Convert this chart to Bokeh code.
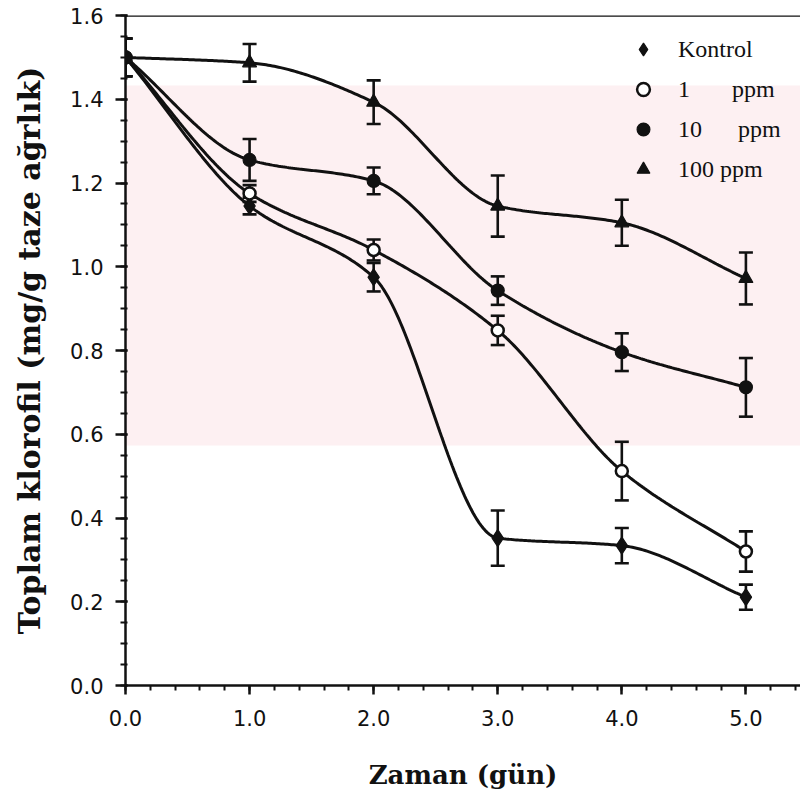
import numpy as np
from bokeh.plotting import figure
from bokeh.models import (ColumnDataSource, Whisker, TeeHead, Legend, LegendItem,
                          Span, SingleIntervalTicker, PrintfTickFormatter, BoxAnnotation)
from bokeh.embed import file_html
from bokeh.resources import INLINE

# ---- data ----
days = [0.0, 1.0, 2.0, 3.0, 4.0, 5.0]
kontrol = [1.50, 1.145, 0.975, 0.352, 0.334, 0.211]
kontrol_err = [0.045, 0.02, 0.034, 0.066, 0.042, 0.03]
ppm1 = [1.50, 1.175, 1.040, 0.848, 0.512, 0.320]
ppm1_err = [0.045, 0.02, 0.025, 0.035, 0.07, 0.048]
ppm10 = [1.50, 1.255, 1.205, 0.943, 0.796, 0.712]
ppm10_err = [0.045, 0.05, 0.032, 0.034, 0.045, 0.07]
ppm100 = [1.50, 1.487, 1.393, 1.145, 1.105, 0.972]
ppm100_err = [0.045, 0.045, 0.052, 0.073, 0.055, 0.062]

series_labels = ["Kontrol", "1\u00a0\u00a0\u00a0\u00a0\u00a0\u00a0\u00a0ppm",
                 "10\u00a0\u00a0\u00a0\u00a0\u00a0\u00a0ppm", "100 ppm"]
x_title = "Zaman (gün)"
y_title = "Toplam klorofil (mg/g taze ağrlık)"

INK = "#111111"


def smooth(x, y, per=60):
    """Monotone cubic (Fritsch-Carlson) curve through the data points."""
    x = np.asarray(x, float)
    y = np.asarray(y, float)
    h = np.diff(x)
    d = np.diff(y) / h
    m = np.zeros_like(y)
    m[0], m[-1] = d[0], d[-1]
    for k in range(1, len(x) - 1):
        if d[k - 1] * d[k] <= 0:
            m[k] = 0.0
        else:
            w1 = 2 * h[k] + h[k - 1]
            w2 = h[k] + 2 * h[k - 1]
            m[k] = (w1 + w2) / (w1 / d[k - 1] + w2 / d[k])
    xs, ys = [], []
    for k in range(len(x) - 1):
        t = np.linspace(0, 1, per, endpoint=(k == len(x) - 2))
        h00 = 2 * t**3 - 3 * t**2 + 1
        h10 = t**3 - 2 * t**2 + t
        h01 = -2 * t**3 + 3 * t**2
        h11 = t**3 - t**2
        xs.append(x[k] + t * h[k])
        ys.append(h00 * y[k] + h10 * h[k] * m[k] + h01 * y[k + 1] + h11 * h[k] * m[k + 1])
    return np.concatenate(xs), np.concatenate(ys)


p = figure(width=800, height=793, x_range=(0, 5.44), y_range=(0, 1.6),
           output_backend="svg", toolbar_location=None,
           min_border_left=125, min_border_right=0, min_border_top=15, min_border_bottom=108)
p.outline_line_color = None
p.grid.grid_line_color = None
p.background_fill_color = "white"
p.border_fill_color = "white"

# faint watermark band seen in the scan
p.add_layout(BoxAnnotation(bottom=0.573, top=1.433, fill_color="#fdf0f2", fill_alpha=1.0,
                           line_color=None, level="underlay"))

# top frame line
p.add_layout(Span(location=1.6, dimension="width", line_color=INK, line_width=2.5))

series = [
    (kontrol, kontrol_err, "diamond", 17, INK),
    (ppm1, ppm1_err, "circle", 12, "white"),
    (ppm10, ppm10_err, "circle", 13, INK),
    (ppm100, ppm100_err, "triangle", 14, INK),
]

scatter_renderers = []
for vals, errs, marker, size, fill in series:
    sx, sy = smooth(days, vals)
    p.line(sx, sy, line_color=INK, line_width=3)
    src = ColumnDataSource(dict(
        x=days,
        y=vals,
        lower=[v - e for v, e in zip(vals, errs)],
        upper=[v + e for v, e in zip(vals, errs)],
    ))
    w = Whisker(source=src, base="x", lower="lower", upper="upper",
                line_color=INK, line_width=2.6,
                upper_head=TeeHead(size=14, line_color=INK, line_width=2.6),
                lower_head=TeeHead(size=14, line_color=INK, line_width=2.6))
    p.add_layout(w)
    r = p.scatter("x", "y", source=src, marker=marker, size=size,
                  fill_color=fill, line_color=INK, line_width=2.5 if fill == "white" else 1.2)
    scatter_renderers.append(r)

legend = Legend(items=[LegendItem(label=lab, renderers=[r])
                       for lab, r in zip(series_labels, scatter_renderers)],
                location=(502, 500), orientation="vertical",
                padding=0, margin=0, spacing=8, glyph_width=32, glyph_height=32,
                label_height=32, label_standoff=19,
                border_line_color=None, background_fill_alpha=0.0,
                label_text_font="Liberation Serif", label_text_font_size="24px",
                label_text_color=INK)
p.add_layout(legend, "center")

# axes
xa = p.xaxis[0]
xa.ticker = SingleIntervalTicker(interval=1.0, num_minor_ticks=5)
xa.formatter = PrintfTickFormatter(format="%.1f")
ya = p.yaxis[0]
ya.ticker = SingleIntervalTicker(interval=0.2, num_minor_ticks=4)
ya.formatter = PrintfTickFormatter(format="%.1f")

for ax in (xa, ya):
    ax.axis_line_color = INK
    ax.axis_line_width = 2.5
    ax.major_tick_line_color = INK
    ax.major_tick_line_width = 2.5
    ax.minor_tick_line_color = INK
    ax.minor_tick_line_width = 2
    ax.major_label_text_font = "DejaVu Sans"
    ax.major_label_text_font_size = "21px"
    ax.major_label_text_color = INK
    ax.axis_label_text_font = "DejaVu Serif"
    ax.axis_label_text_font_style = "bold"
    ax.axis_label_text_color = INK

xa.axis_label_text_font_size = "26px"
ya.axis_label_text_font_size = "30px"

xa.major_tick_in = 0
xa.major_tick_out = 9
xa.minor_tick_in = 0
xa.minor_tick_out = 5
xa.major_label_standoff = 15
xa.axis_label = x_title
xa.axis_label_standoff = 31

ya.major_tick_in = 2
ya.major_tick_out = 10
ya.minor_tick_in = 2
ya.minor_tick_out = 5
ya.major_label_standoff = 12
ya.axis_label = y_title
ya.axis_label_standoff = 20

with open("out.html", "w") as f:
    f.write(file_html(p, INLINE))
